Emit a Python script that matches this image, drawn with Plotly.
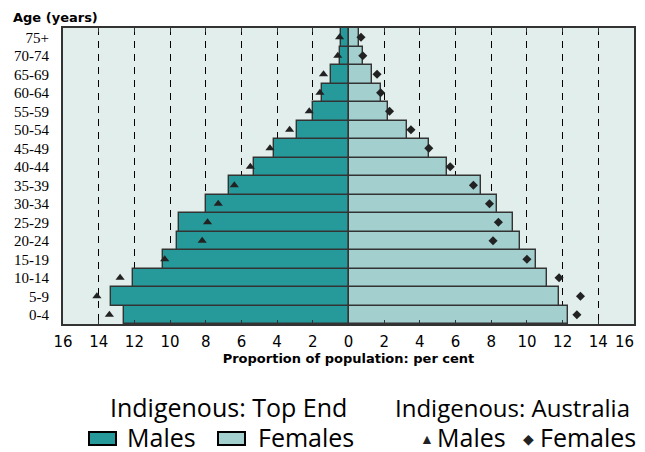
import plotly.graph_objects as go

ages = ["0-4", "5-9", "10-14", "15-19", "20-24", "25-29", "30-34", "35-39",
        "40-44", "45-49", "50-54", "55-59", "60-64", "65-69", "70-74", "75+"]

# Indigenous: Top End (bars)
te_males = [12.6, 13.3, 12.1, 10.4, 9.6, 9.5, 8.0, 6.7,
            5.3, 4.2, 2.9, 2.0, 1.5, 1.0, 0.5, 0.4]
te_females = [12.3, 11.8, 11.1, 10.5, 9.6, 9.2, 8.3, 7.4,
              5.5, 4.5, 3.3, 2.2, 1.8, 1.3, 0.8, 0.6]

# Indigenous: Australia (markers)
au_males = [13.4, 14.1, 12.8, 10.3, 8.2, 7.9, 7.3, 6.4,
            5.5, 4.4, 3.3, 2.2, 1.6, 1.4, 0.6, 0.5]
au_females = [12.8, 13.0, 11.8, 10.0, 8.1, 8.4, 7.9, 7.0,
              5.7, 4.5, 3.5, 2.3, 1.8, 1.6, 0.8, 0.7]

tick_vals = list(range(-16, 17, 2))
# the right-hand "16" is drawn as an annotation so it is not clipped
tick_text = [str(abs(v)) if v != 16 else "" for v in tick_vals]

MALE = "#269a9b"
FEMALE = "#a3cfce"
DARK = "#222222"

fig = go.Figure()

fig.add_trace(go.Bar(
    y=ages, x=[-v for v in te_males], orientation="h", name="Males",
    marker=dict(color=MALE, line=dict(color="#333333", width=1.4)),
))
fig.add_trace(go.Bar(
    y=ages, x=te_females, orientation="h", name="Females",
    marker=dict(color=FEMALE, line=dict(color="#333333", width=1.4)),
))
fig.add_trace(go.Scatter(
    y=ages, x=[-v for v in au_males], mode="markers",
    marker=dict(symbol="triangle-up", size=8, color=DARK),
))
fig.add_trace(go.Scatter(
    y=ages, x=au_females, mode="markers",
    marker=dict(symbol="diamond", size=7, color=DARK),
))

fig.update_xaxes(
    range=[-16, 16], tickvals=tick_vals, ticktext=tick_text, automargin=False,
    showgrid=True, gridcolor="black", griddash="7px,6px", gridwidth=1.3,
    zeroline=True, zerolinecolor="black", zerolinewidth=2.5,
    showline=True, linecolor="#333333", linewidth=2, mirror="ticks",
    ticks="inside", ticklen=4, tickcolor="#333333", ticklabelstandoff=3,
    tickfont=dict(family="DejaVu Sans", size=15, color="black"),
    title=dict(text="<b>Proportion of population: per cent</b>",
               font=dict(family="DejaVu Sans", size=13, color="black"), standoff=4),
)
fig.update_yaxes(
    type="category", range=[-0.5, 15.5], automargin=False,
    tickmode="array", tickvals=ages, ticktext=ages,
    showline=True, linecolor="#333333", linewidth=2, mirror=True,
    showgrid=False, ticks="", ticklabelstandoff=9,
    tickfont=dict(family="Liberation Serif", size=15, color="black"),
)

# the page puts the figure 8px in from the window's top-left corner
OFF = 8
W, H = 645 - 2 * OFF, 452 - OFF
L, T = 63 - OFF, 28 - OFF
pw, ph = 571, 296
R, B = W - L - pw, H - T - ph

big = dict(family="Open Sans", size=25, color="black")
mid = dict(family="Open Sans", size=24, color="black")
# label, pixel x, pixel y (in window pixels), anchor, font
labels = [
    ("<b>Age (years)</b>", 11, 17, "left", dict(family="DejaVu Sans", size=13, color="black")),
    ("16", 636, 342, "right", dict(family="DejaVu Sans", size=15, color="black")),
    ("Indigenous: Top End", 228, 407, "center", big),
    ("Indigenous: Australia", 632, 407, "right", mid),
    ("Males", 125, 437, "left", big),
    ("Females", 256, 437, "left", big),
    ("▲", 418, 438, "left", dict(size=14, color=DARK)),
    ("Males", 435, 437, "left", big),
    ("◆", 521, 438, "left", dict(size=14, color=DARK)),
    ("Females", 538, 437, "left", big),
]
anns = [
    dict(text=t, x=(px - OFF - L) / pw, y=1 - (py - OFF - T) / ph,
         xref="paper", yref="paper", xanchor=anc, yanchor="middle",
         showarrow=False, font=f)
    for t, px, py, anc, f in labels
]

shapes = []
for x0, color in [(89, MALE), (218, FEMALE)]:
    shapes.append(dict(
        type="rect", xref="paper", yref="paper",
        x0=(x0 - OFF - L) / pw, x1=(x0 + 27 - OFF - L) / pw,
        y0=1 - (445 - OFF - T) / ph, y1=1 - (432 - OFF - T) / ph,
        fillcolor=color, line=dict(color="black", width=2),
    ))

fig.update_layout(
    width=W, height=H,
    barmode="overlay", bargap=0,
    showlegend=False,
    plot_bgcolor="#e1eeeb", paper_bgcolor="white",
    margin=dict(l=L, r=R, t=T, b=B),
    annotations=anns, shapes=shapes,
)

fig.write_html("out.html")
